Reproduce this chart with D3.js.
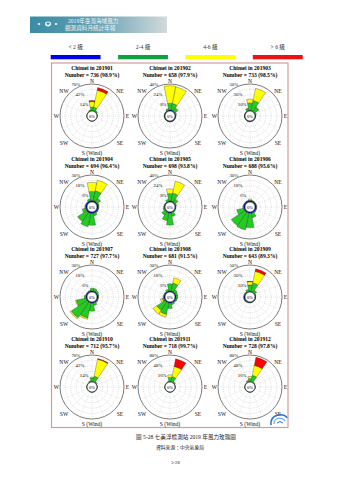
<!DOCTYPE html>
<html><head><meta charset="utf-8">
<script src="https://cdn.jsdelivr.net/npm/d3@7"></script>
<style>body{margin:0;background:#fff}svg{display:block}</style>
</head><body>
<script>
// ---------- DATA ----------
const directions = ["N","NNE","NE","ENE","E","ESE","SE","SSE","S","SSW","SW","WSW","W","WNW","NW","NNW"];
const speedClasses = ["< 2 級","2-4 級","4-6 級","> 6 級"];
const months = ["201901","201902","201903","201904","201905","201906","201907","201908","201909","201910","201911","201912"];
const obsCounts = [736,658,733,694,698,688,727,681,643,712,718,728];
const obsRates = ["98.9%","97.9%","98.5%","96.4%","93.8%","95.6%","97.7%","91.5%","89.3%","95.7%","99.7%","97.8%"];
const scaleMax = [70,40,50,30,40,30,30,30,50,70,80,80];
const ringTicks = [[14,42,70],[8,24,40],[10,30,50],[6,18,30],[8,24,40],[6,18,30],[6,18,30],[6,18,30],[10,30,50],[14,42,70],[16,48,80],[16,48,80]];
const compassLabels = ["N","NE","E","SE","S (Wind)","SW","W","NW"];
// percentages per direction (N..NNW) for each month, by speed class
const pctLt2 = [
 [0.3,0.3,0.2,0.2,0.2,0.2,0.2,0.2,0.2,0.2,0.2,0.2,0.2,0.2,0.2,0.2],
 [1.5,1.5,1.2,1,1,1,1,1,1,1,1,1,1,1,1,1.2],
 [1,1,1,0.8,0.8,0.8,0.8,0.8,0.8,0.8,0.8,0.8,0.8,0.8,0.8,1],
 [1.8,1.8,1.5,1.5,1.5,1.5,1.5,1.5,1.8,1.8,1.8,1.5,1.5,1.5,1.5,1.8],
 [1.5,1.5,1.2,1,1,1,1,1,1.5,1.5,1.2,1,1,1,1,1.2],
 [1.5,1.5,1.5,1.5,1.5,1.5,1.5,1.5,1.5,1.5,1.5,1.5,1.5,1.5,1.5,1.5],
 [1.2,1.2,1.2,1.2,1.2,1.2,1.2,1.2,1.2,1.2,1.2,1.2,1.2,1.2,1.2,1.2],
 [1.2,1.2,1.2,1.2,1.2,1.2,1.2,1.2,1.2,1.2,1.2,1.2,1.2,1.2,1.2,1.2],
 [1.2,1.2,1,1,1,1,1,1,1.2,1.5,2,2,2,1.8,1.5,1.2],
 [0.4,0.4,0.3,0.3,0.3,0.3,0.3,0.3,0.3,0.3,0.3,0.3,0.3,0.3,0.3,0.3],
 [0.4,0.4,0.3,0.3,0.3,0.3,0.3,0.3,0.3,0.3,0.3,0.3,0.3,0.3,0.3,0.3],
 [0.4,0.4,0.3,0.3,0.3,0.3,0.3,0.3,0.3,0.3,0.3,0.3,0.3,0.3,0.3,0.3]
];
const pct2to4 = [
 [10,10,3,1,0.5,0.3,0.2,0.2,0.3,0.3,0.3,0.2,0.2,0.2,0.5,2],
 [10,10,5,1.5,0.5,0.3,0.3,0.3,0.5,0.5,0.3,0.3,0.3,0.3,0.5,2],
 [14,19,9,2,0.5,0.3,0.3,0.5,1,1,0.5,0.3,0.3,0.3,0.5,4],
 [10,11,4,1,0.5,0.5,1,3,13,15,12,4,1,0.5,0.5,2],
 [11,12,5,1.5,0.5,0.5,1,6,18,12,6,2,1,0.5,0.5,3],
 [0.5,0.5,0.3,0.3,0.3,0.5,1,5,16,19,18,8,1,0.5,0.3,0.3],
 [3,3,2,1,0.5,0.5,1,3,9,17,21,11,2,0.5,0.5,1],
 [8,9,3,2,2,1.5,1,2,6,13,11,2,1,0.5,0.5,2],
 [12,16,4,1,0.5,0.3,0.3,0.3,0.5,0.5,0.5,0.5,0.5,0.5,1,4],
 [10,15,3,0.5,0.3,0.3,0.3,0.3,0.3,0.3,0.3,0.3,0.3,0.3,0.5,3],
 [13,16,3,0.5,0.3,0.3,0.3,0.3,0.3,0.3,0.3,0.3,0.3,0.3,0.5,2],
 [10,20,3,0.5,0.3,0.3,0.3,0.3,0.3,0.3,0.3,0.3,0.3,0.3,0.5,4]
];
const pct4to6 = [
 [14,45,0.5,0,0,0,0,0,0,0,0,0,0,0,0,0.5],
 [26,25,1,0,0,0,0,0,0,0,0,0,0,0,0,0.5],
 [7,23,1,0,0,0,0,0,0,0,0,0,0,0,0,0.5],
 [10,12,0.5,0,0,0,0,0,0,0,0,0,0,0,0,0],
 [7,18,1,0,0,0,0,0,0,0,0,0,0,0,0,0],
 [1.5,0,0,0,0,0,0,0,0,0,0,0,0,0,0,0],
 [0,0,0,0,0,0,0,0,0,1.5,1.5,1,0,0,0,0],
 [0,6,0,0,0,0,0,0,0,3,5,2,0,0,0,0],
 [6,22,1,0,0,0,0,0,0,0,0,0,0,0,0,0],
 [2,45,0,0,0,0,0,0,0,0,0,0,0,0,0,0],
 [8,31,1,0,0,0,0,0,0,0,0,0,0,0,0,0],
 [6,30,0,0,0,0,0,0,0,0,0,0,0,0,0,1]
];
const pctGt6 = [
 [3,7,0,0,0,0,0,0,0,0,0,0,0,0,0,0],
 [0,0,0,0,0,0,0,0,0,0,0,0,0,0,0,0],
 [0,0,0,0,0,0,0,0,0,0,0,0,0,0,0,0],
 [0,0,0,0,0,0,0,0,0,0,0,0,0,0,0,0],
 [0,0,0,0,0,0,0,0,0,0,0,0,0,0,0,0],
 [0,0,0,0,0,0,0,0,0,0,0,0,0,0,0,0],
 [0,0,0,0,0,0,0,0,0,0,0,0,0,0,0,0],
 [0,0,0,0,0,0,0,0,0,0,0,0,0,0,0,0],
 [0.5,5,0,0,0,0,0,0,0,0,0,0,0,0,0,0],
 [0,2,0,0,0,0,0,0,0,0,0,0,0,0,0,0],
 [0,23,0,0,0,0,0,0,0,0,0,0,0,0,0,0],
 [0,25,0,0,0,0,0,0,0,0,0,0,0,0,0,0]
];

// ---------- STYLE / LAYOUT ----------
const petalColors = ["#0000ff","#22cc22","#ffff00","#ff0000"];
const legendColors = ["#0000e6","#10a040","#ffff00","#ee1111"];
const W = 339, H = 480;
const colX = [92,170,250], rowY = [116,207,297,387];
const R0 = 5, R = 32;
const serif = "'Liberation Serif','Times New Roman',serif";
const cjk = "'Liberation Serif','Noto Sans CJK TC',sans-serif";

const svg = d3.select("body").append("svg").attr("width",W).attr("height",H);
const defs = svg.append("defs");
const grad = defs.append("linearGradient").attr("id","bannerGrad").attr("x1","0").attr("x2","1").attr("y1","0").attr("y2","0");
grad.append("stop").attr("offset","0").attr("stop-color","#3a8ca6");
grad.append("stop").attr("offset","0.45").attr("stop-color","#5f9db0");
grad.append("stop").attr("offset","1").attr("stop-color","#d2dadc");

// Banner
svg.append("rect").attr("x",30).attr("y",16.5).attr("width",137).attr("height",16.5).attr("fill","url(#bannerGrad)");
svg.append("ellipse").attr("cx",39).attr("cy",24).attr("rx",1.3).attr("ry",1.1).attr("fill","#e8f4f8");
svg.append("ellipse").attr("cx",48).attr("cy",24).attr("rx",3).attr("ry",2.4).attr("fill","#e8f4f8");
svg.append("ellipse").attr("cx",48).attr("cy",23.6).attr("rx",1.6).attr("ry",1.2).attr("fill","#3a8ca6");
svg.append("ellipse").attr("cx",56).attr("cy",24).attr("rx",1.3).attr("ry",1.1).attr("fill","#e8f4f8");
svg.append("text").attr("x",68).attr("y",23).attr("font-family",cjk).attr("font-size",5.6).attr("fill","#f4f4f4").text("2019年臺灣海域風力");
svg.append("text").attr("x",65).attr("y",29.8).attr("font-family",cjk).attr("font-size",5.6).attr("fill","#f4f4f4").text("觀測資料月統計年報");

// Legend
const legX = d3.scaleBand().domain(speedClasses).range([50,302]).paddingInner(0.26).paddingOuter(0);
speedClasses.forEach((c,i)=>{
  svg.append("rect").attr("x",legX(c)+0.7).attr("y",55).attr("width",legX.bandwidth()).attr("height",4.3).attr("fill",legendColors[i]);
  svg.append("text").attr("x",legX(c)+legX.bandwidth()/2+0.7).attr("y",49).attr("text-anchor","middle")
    .attr("font-family",cjk).attr("font-size",5.6).attr("fill","#333").text(c);
});

// Box
svg.append("rect").attr("x",51.5).attr("y",63).attr("width",236.5).attr("height",364.5)
  .attr("fill","none").attr("stroke","#d6999c").attr("stroke-width",1.2);

const toRad = d => d*Math.PI/180;
const step = 360/directions.length;

months.forEach((m,i)=>{
  const cx = colX[i%3], cy = rowY[Math.floor(i/3)];
  const g = svg.append("g").attr("transform",`translate(${cx},${cy})`);
  const max = scaleMax[i];
  const r = d3.scaleLinear().domain([0,max]).range([R0,R]);
  for(let k=1;k<=5;k++){
    const v = max*k/5;
    g.append("circle").attr("r",r(v)).attr("fill","none")
      .attr("stroke",k===5?"#222":"#b8b8b8").attr("stroke-width",k===5?0.6:0.45)
      .attr("stroke-dasharray",k===5?null:"1,1");
  }
  directions.forEach((d,k)=>{
    const a = toRad(k*step);
    g.append("line").attr("x1",R0*Math.sin(a)).attr("y1",-R0*Math.cos(a))
      .attr("x2",R*Math.sin(a)).attr("y2",-R*Math.cos(a))
      .attr("stroke","#c4c4c4").attr("stroke-width",0.4).attr("stroke-dasharray","1,1");
  });
  const series = [pctLt2[i],pct2to4[i],pct4to6[i],pctGt6[i]];
  const arc = d3.arc();
  directions.forEach((d,k)=>{
    let cum = 0;
    series.forEach((s,c)=>{
      const v = s[k];
      if(v>0){
        g.append("path").attr("d",arc({innerRadius:r(cum),outerRadius:r(cum+v),
            startAngle:toRad(k*step-step/2),endAngle:toRad(k*step+step/2)}))
          .attr("fill",petalColors[c]).attr("stroke","#1a1a1a").attr("stroke-width",0.3);
      }
      cum += v;
    });
  });
  g.append("circle").attr("r",R0).attr("fill","#fff").attr("stroke","#111").attr("stroke-width",0.6);
  g.append("text").attr("y",1.6).attr("text-anchor","middle").attr("font-family",serif).attr("font-size",4.4).text("0%");
  const la = toRad(-22.5);
  ringTicks[i].forEach(v=>{
    const rr = r(v);
    g.append("text").attr("x",rr*Math.sin(la)+0.5).attr("y",-rr*Math.cos(la)-0.6)
      .attr("text-anchor","end").attr("font-family",serif).attr("font-size",4.8).attr("fill","#111").text(v+"%");
  });
  const pos = [[0,-33],[28,-23.5],[35.5,2],[28,29],[0,39],[-28,29],[-35.5,2],[-28,-23.5]];
  compassLabels.forEach((t,k)=>{
    g.append("text").attr("x",pos[k][0]).attr("y",pos[k][1]).attr("text-anchor","middle")
      .attr("font-family",serif).attr("font-size",5.6).attr("fill","#111").text(t);
  });
  g.append("text").attr("y",-46).attr("text-anchor","middle").attr("font-family",serif).attr("font-weight","bold")
    .attr("font-size",5.6).text(`Chimei in ${m}`);
  g.append("text").attr("y",-39).attr("text-anchor","middle").attr("font-family",serif).attr("font-weight","bold")
    .attr("font-size",5.6).text(`Number = ${obsCounts[i]} (${obsRates[i]})`);
});

// small logo bottom right
const lg = svg.append("g").attr("transform","translate(279,421)");
lg.append("path").attr("d","M-8,4 Q-9,-4 -1,-6 Q6,-7 8,-3").attr("fill","none").attr("stroke","#2a6fd0").attr("stroke-width",1.6);
lg.append("path").attr("d","M-5,3 Q-5,-2 0,-3 Q4,-3 6,0").attr("fill","none").attr("stroke","#66aaee").attr("stroke-width",1.2);
lg.append("path").attr("d","M-2,2 Q1,-1 4,2").attr("fill","none").attr("stroke","#2a6fd0").attr("stroke-width",1);

// caption
svg.append("text").attr("x",186).attr("y",439).attr("text-anchor","middle").attr("font-family",cjk).attr("font-size",5.6).attr("fill","#222")
  .text("圖 5-28  七美浮標測站 2019 年風力玫瑰圖");
svg.append("text").attr("x",180).attr("y",449).attr("text-anchor","middle").attr("font-family",cjk).attr("font-size",4.8).attr("fill","#222")
  .text("資料來源：中央氣象局");
svg.append("text").attr("x",175.5).attr("y",464).attr("text-anchor","middle").attr("font-family",serif).attr("font-size",4.6).attr("fill","#222")
  .text("5-28");
</script>
</body></html>
